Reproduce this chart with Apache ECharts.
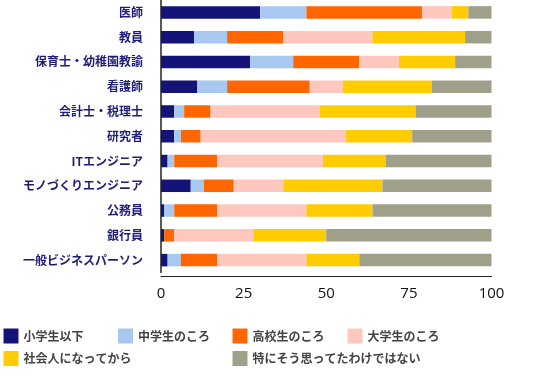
<!DOCTYPE html>
<html><head><meta charset="utf-8">
<script src="https://cdn.jsdelivr.net/npm/echarts@6/dist/echarts.min.js"></script>
<style>html,body{margin:0;padding:0;background:#fff}#c{width:534px;height:380px}</style>
</head><body><div id="c"></div>
<script>
const categories = ['医師','教員','保育士・幼稚園教諭','看護師','会計士・税理士','研究者','ITエンジニア','モノづくりエンジニア','公務員','銀行員','一般ビジネスパーソン'];
const seriesNames = ['小学生以下','中学生のころ','高校生のころ','大学生のころ','社会人になってから','特にそう思ってたわけではない'];
const elementary = [30,10,27,11,4,4,2,9,1,1,2];
const juniorHigh = [14,10,13,9,3,2,2,4,3,0,4];
const highSchool = [35,17,20,25,8,6,13,9,13,3,11];
const university = [9,27,12,10,33,44,32,15,27,24,27];
const working = [5,28,17,27,29,20,19,30,20,22,16];
const never = [7,8,11,18,23,24,32,33,36,50,40];
const xTicks = [0,25,50,75,100];
const colors = ['#141478','#a8c8f0','#ff6600','#ffc8be','#ffcc00','#a0a08a'];
const values = [elementary, juniorHigh, highSchool, university, working, never];

const legendPos = [[3.5,328.5],[118,328.5],[232.5,328.5],[347.5,328.5],[3.5,351],[232.5,351]];
const chart = echarts.init(document.getElementById('c'), null, {renderer:'canvas'});
chart.setOption({
  animation:false,
  color: colors,
  grid:{left:161,right:42.5,top:0,bottom:107.5,containLabel:false},
  xAxis:{type:'value',min:0,max:100,interval:25,offset:3.5,
    axisLine:{show:true,lineStyle:{color:'#222',width:1}},
    axisTick:{show:false},splitLine:{show:false},
    axisLabel:{margin:10,fontSize:15,color:'#111',fontFamily:'Open Sans, sans-serif',
      formatter:v=>xTicks.includes(v)?String(v):''}},
  yAxis:{type:'category',data:categories,inverse:true,
    axisLine:{show:true,lineStyle:{color:'#222',width:1.5}},
    axisTick:{show:false},
    axisLabel:{margin:18,fontSize:12,fontWeight:'bold',color:'#1e1e78',fontFamily:'Noto Sans CJK JP'}},
  legend: seriesNames.map((n,i)=>({data:[n],left:legendPos[i][0],top:legendPos[i][1],padding:0,
    itemWidth:15,itemHeight:15,itemGap:10,icon:'rect',
    textStyle:{fontSize:12,fontWeight:'bold',color:'#444',fontFamily:'Noto Sans CJK JP',padding:[0,0,0,0]}})),
  series: seriesNames.map((n,i)=>({name:n,type:'bar',stack:'s',data:values[i],barWidth:12.5,
    itemStyle:{color:colors[i]}}))
});
</script></body></html>
